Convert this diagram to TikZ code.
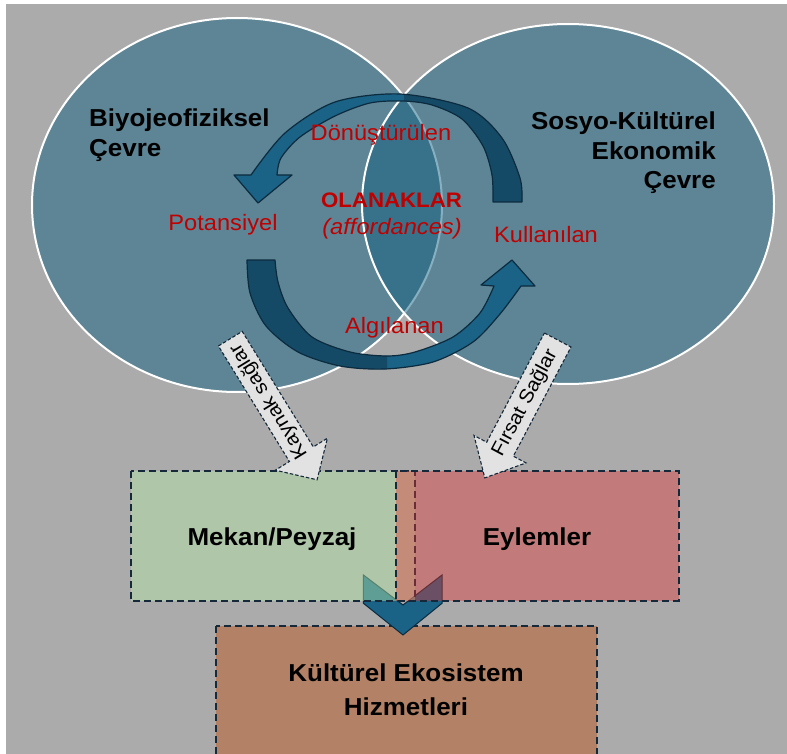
\documentclass[tikz,border=0pt]{standalone}
\usepackage{fontspec}
\setmainfont{Liberation Sans}[FakeStretch=1.06]
\definecolor{bggray}{HTML}{ABABAB}
\definecolor{ellblue}{HTML}{136181}
\definecolor{arrlight}{HTML}{1A6286}
\definecolor{arrdark}{HTML}{154A67}
\definecolor{arrline}{HTML}{0C2B3E}
\definecolor{labred}{HTML}{C00000}
\definecolor{boxgreen}{RGB}{180,233,167}
\definecolor{boxred}{RGB}{229,51,49}
\definecolor{boxbrown}{HTML}{B38266}
\definecolor{dashline}{HTML}{15293A}
\definecolor{callgray}{HTML}{E2E2E2}
\tikzset{
  envlabel/.style={font=\fontsize{24.5}{28}\selectfont\bfseries, inner sep=0pt, text=black},
  redlabel/.style={font=\fontsize{22.3}{26}\selectfont, inner sep=0pt, text=labred},
  boxlabel/.style={font=\fontsize{24.5}{28}\selectfont\bfseries, inner sep=0pt, text=black},
  calllabel/.style={font=\fontsize{19.5}{23}\selectfont, inner sep=0pt, text=black},
  dashbox/.style={draw=dashline, line width=2pt, dash pattern=on 7pt off 4pt},
  callout/.style={fill=callgray, draw=dashline, line width=1.1pt, dash pattern=on 3.5pt off 2pt, line join=miter},
  ribbon/.style={draw=arrline, line width=1.2pt, line join=round},
  envshape/.style={fill=ellblue, fill opacity=0.5, draw=white, line width=2pt},
}
\begin{document}
\begin{tikzpicture}[x=1pt,y=-1pt]
\useasboundingbox (0,0) rectangle (787,754);
\fill[bggray] (6,4) rectangle (787,754);
% environments
\path[envshape] (237,205) ellipse [x radius=205pt, y radius=187pt];
\path[envshape] (568,204) ellipse [x radius=206pt, y radius=180pt];
% top circular arrow
\path[save path=\toparrow] plot[smooth] coordinates {(522,202) (520,178) (502,138) (468,108) (400,94) (335,102) (285,133) (251,175)}
  -- (234,175) -- (258,203) -- (292,175)
  -- plot[smooth] coordinates {(277,175) (281,158) (300,137) (335,116) (370,103) (403,101) (432,105) (462,119) (483,146) (492,175) (493,202)} -- cycle;
\fill[arrlight, use path=\toparrow];
\begin{scope}
  \clip (404,0) rectangle (787,300);
  \fill[arrdark, use path=\toparrow];
\end{scope}
\draw[ribbon, use path=\toparrow];
% bottom circular arrow
\path[save path=\botarrow] plot[smooth] coordinates {(247,260) (250,293) (266,326) (298,352) (340,366) (385,369) (433,362) (473,342) (500,314) (521,286)}
  -- (535,286) -- (512,260) -- (481,285)
  -- plot[smooth] coordinates {(494,286) (480,313) (453,337) (415,352) (387,356) (350,352) (312,337) (288,308) (278,282) (275,260)} -- cycle;
\fill[arrlight, use path=\botarrow];
\begin{scope}
  \clip (0,240) rectangle (387,400);
  \fill[arrdark, use path=\botarrow];
\end{scope}
\draw[ribbon, use path=\botarrow];
% bottom boxes
\draw[dashbox, fill=boxbrown] (216,626) rectangle (597,775);
\draw[fill=arrlight, draw=arrline, line width=1pt, line join=miter] (363.4,575) -- (403,605) -- (442,575) -- (442,603.3) -- (403,635) -- (363.4,603.3) -- cycle;
\draw[dashbox, fill=boxgreen, fill opacity=0.45] (130.5,471) rectangle (415,600.5);
\draw[dashbox, fill=boxred, fill opacity=0.4] (395.6,471) rectangle (679,600.5);
% callout arrows
\draw[callout] (218.4,346.0) -- (242.2,331.4) -- (313.3,446.9) -- (327.4,438.2) -- (317.1,479.8) -- (275.3,470.2) -- (289.4,461.5) -- cycle;
\draw[callout] (544.4,333.0) -- (571.0,347.0) -- (513.3,456.2) -- (526.0,462.9) -- (484.8,477.9) -- (474.0,435.5) -- (486.7,442.2) -- cycle;
% labels
\node[envlabel, anchor=base west] (bio1) at (89,127) {Biyojeofiziksel};
\node[envlabel, anchor=base west] (bio2) at (89,157) {Çevre};
\node[envlabel, anchor=base east] (sos1) at (716,130) {Sosyo-Kültürel};
\node[envlabel, anchor=base east] (sos2) at (716,160) {Ekonomik};
\node[envlabel, anchor=base east] (sos3) at (716,189) {Çevre};
\node[redlabel, anchor=base] (don) at (381,140.7) {Dönüştürülen};
\node[redlabel, anchor=base, font=\fontsize{21}{25}\selectfont\bfseries] (ola) at (391.5,207.7) {OLANAKLAR};
\node[redlabel, anchor=base, font=\fontsize{22.3}{26}\selectfont\itshape] (aff) at (392,235) {(affordances)};
\node[redlabel, anchor=base] (pot) at (223,230) {Potansiyel};
\node[redlabel, anchor=base] (kul) at (546,242) {Kullanılan};
\node[redlabel, anchor=base] (alg) at (394.5,333) {Algılanan};
\node[boxlabel, anchor=base] (mek) at (272,545) {Mekan/Peyzaj};
\node[boxlabel, anchor=base] (eyl) at (537,545) {Eylemler};
\node[boxlabel, anchor=base] (kes1) at (406,681.7) {Kültürel Ekosistem};
\node[boxlabel, anchor=base] (kes2) at (406,715) {Hizmetleri};
\node[calllabel, rotate=121.6] (kay) at (269,401) {Kaynak sağlar};
\node[calllabel, rotate=62] (fir) at (525,403) {Fırsat Sağlar};
\end{tikzpicture}
\end{document}
